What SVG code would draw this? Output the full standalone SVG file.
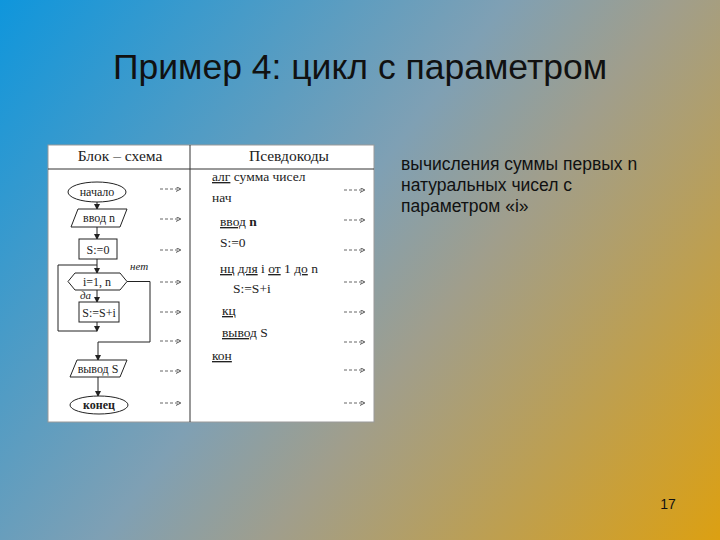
<svg xmlns="http://www.w3.org/2000/svg" width="720" height="540" viewBox="0 0 720 540">
<defs>
<linearGradient id="bg" x1="0" y1="0" x2="720" y2="540" gradientUnits="userSpaceOnUse">
<stop offset="0" stop-color="#0f96dc"/>
<stop offset="0.45" stop-color="#7fa0b4"/>
<stop offset="0.6" stop-color="#a09e8c"/>
<stop offset="1" stop-color="#dca012"/>
</linearGradient>
<marker id="ah" viewBox="0 0 6 6" refX="5" refY="3" markerWidth="6" markerHeight="6" orient="auto" markerUnits="userSpaceOnUse">
<path d="M0,0 L6,3 L0,6 Z" fill="#222"/>
</marker>
<marker id="dh" viewBox="0 0 6 6" refX="5" refY="3" markerWidth="5" markerHeight="5" orient="auto" markerUnits="userSpaceOnUse">
<path d="M0,0 L6,3 L0,6" fill="none" stroke="#555" stroke-width="1.2"/>
</marker>
</defs>
<style>
.fc{fill:#fff;stroke:#222;stroke-width:1}
.t{font-family:"Liberation Serif",serif;font-size:13.5px;fill:#222}
.ft{font-family:"Liberation Serif",serif;font-size:12px;fill:#222;text-anchor:middle}
.ln{fill:none;stroke:#222;stroke-width:1}
.dash{fill:none;stroke:#666;stroke-width:1;stroke-dasharray:3 2}
.u{text-decoration:underline}
</style>
<rect x="0" y="0" width="720" height="540" fill="url(#bg)"/>
<text x="360" y="79" text-anchor="middle" font-family="Liberation Sans, Arial, sans-serif" font-size="35.5" fill="#111">Пример 4: цикл с параметром</text>
<g id="desc" font-family="Liberation Sans, Arial, sans-serif" font-size="17.5" fill="#111">
<text x="401" y="170">вычисления суммы первых n</text>
<text x="401" y="191">натуральных чисел с</text>
<text x="401" y="212">параметром «i»</text>
</g>
<text x="668" y="509" text-anchor="middle" font-family="Liberation Sans, Arial, sans-serif" font-size="14" fill="#111">17</text>
<g id="table">
<rect x="48" y="145" width="326" height="277" fill="#fff" stroke="#999" stroke-width="1"/>
<line x1="48" y1="169" x2="374" y2="169" stroke="#333" stroke-width="1"/>
<line x1="190" y1="145" x2="190" y2="422" stroke="#333" stroke-width="1"/>
<text x="120" y="161" text-anchor="middle" font-family="Liberation Serif, serif" font-size="15.5" fill="#222">Блок – схема</text>
<text x="289" y="161" text-anchor="middle" font-family="Liberation Serif, serif" font-size="15.5" fill="#222">Псевдокоды</text>
</g>
<g id="connectors">
<line class="ln" x1="97" y1="202" x2="97" y2="209" marker-end="url(#ah)"/>
<line class="ln" x1="97" y1="227" x2="97" y2="239" marker-end="url(#ah)"/>
<line class="ln" x1="97" y1="259" x2="97" y2="273" marker-end="url(#ah)"/>
<line class="ln" x1="97" y1="290" x2="97" y2="302" marker-end="url(#ah)"/>
<line class="ln" x1="97" y1="322" x2="97" y2="331" marker-end="url(#ah)"/>
<polyline class="ln" points="97,331 58,331 58,265 97,265"/>
<polyline class="ln" points="127,281.5 150,281.5 150,342 98,342 98,360" marker-end="url(#ah)"/>
<line class="ln" x1="98" y1="377" x2="98" y2="396" marker-end="url(#ah)"/>
<text x="130" y="270" font-family="Liberation Serif, serif" font-style="italic" font-size="11" fill="#222">нет</text>
<text x="80" y="299" font-family="Liberation Serif, serif" font-style="italic" font-size="11" fill="#222">да</text>
</g>
<g id="start"><ellipse class="fc" cx="97" cy="192" rx="29" ry="10"/><text class="ft" x="97" y="196">начало</text></g>
<g id="input"><polygon class="fc" points="78,209 127,209 120,227 71,227"/><text class="ft" x="99" y="222">ввод n</text></g>
<g id="init"><rect class="fc" x="79" y="239" width="38" height="20"/><text class="ft" x="98" y="253.5">S:=0</text></g>
<g id="loop"><polygon class="fc" points="68,281.5 75,273 120,273 127,281.5 120,290 75,290"/><text class="ft" x="97" y="285.5">i=1, n</text></g>
<g id="body"><rect class="fc" x="79" y="302" width="40" height="20"/><text class="ft" x="99" y="316.5">S:=S+i</text></g>
<g id="output"><polygon class="fc" points="77,360 127,360 120,377 70,377"/><text class="ft" x="98" y="372.5">вывод S</text></g>
<g id="end"><ellipse class="fc" cx="99" cy="405" rx="29" ry="9"/><text class="ft" x="99" y="409" font-weight="bold">конец</text></g>
<g id="dashes">
<line class="dash" x1="160" y1="189" x2="180" y2="189" marker-end="url(#dh)"/>
<line class="dash" x1="160" y1="219" x2="180" y2="219" marker-end="url(#dh)"/>
<line class="dash" x1="160" y1="250" x2="180" y2="250" marker-end="url(#dh)"/>
<line class="dash" x1="160" y1="282" x2="180" y2="282" marker-end="url(#dh)"/>
<line class="dash" x1="160" y1="312" x2="180" y2="312" marker-end="url(#dh)"/>
<line class="dash" x1="160" y1="341" x2="180" y2="341" marker-end="url(#dh)"/>
<line class="dash" x1="160" y1="371" x2="180" y2="371" marker-end="url(#dh)"/>
<line class="dash" x1="160" y1="403" x2="180" y2="403" marker-end="url(#dh)"/>
<line class="dash" x1="344" y1="190" x2="364" y2="190" marker-end="url(#dh)"/>
<line class="dash" x1="344" y1="220" x2="364" y2="220" marker-end="url(#dh)"/>
<line class="dash" x1="344" y1="250" x2="364" y2="250" marker-end="url(#dh)"/>
<line class="dash" x1="344" y1="282" x2="364" y2="282" marker-end="url(#dh)"/>
<line class="dash" x1="344" y1="312" x2="364" y2="312" marker-end="url(#dh)"/>
<line class="dash" x1="344" y1="342" x2="364" y2="342" marker-end="url(#dh)"/>
<line class="dash" x1="344" y1="370" x2="364" y2="370" marker-end="url(#dh)"/>
<line class="dash" x1="344" y1="403" x2="364" y2="403" marker-end="url(#dh)"/>
</g>
<g id="pseudocode">
<text class="t" x="212" y="181"><tspan class="u">алг</tspan> сумма чисел</text>
<text class="t" x="212" y="202">нач</text>
<text class="t" x="220" y="226"><tspan class="u">ввод</tspan> <tspan font-weight="bold">n</tspan></text>
<text class="t" x="220" y="247">S:=0</text>
<text class="t" x="220" y="273"><tspan class="u">нц</tspan> <tspan class="u">для</tspan> i <tspan class="u">от</tspan> 1 <tspan class="u">до</tspan> n</text>
<text class="t" x="233" y="293">S:=S+i</text>
<text class="t" x="222" y="315"><tspan class="u">кц</tspan></text>
<text class="t" x="222" y="337"><tspan class="u">вывод</tspan> S</text>
<text class="t" x="212" y="360"><tspan class="u">кон</tspan></text>
</g>
</svg>
